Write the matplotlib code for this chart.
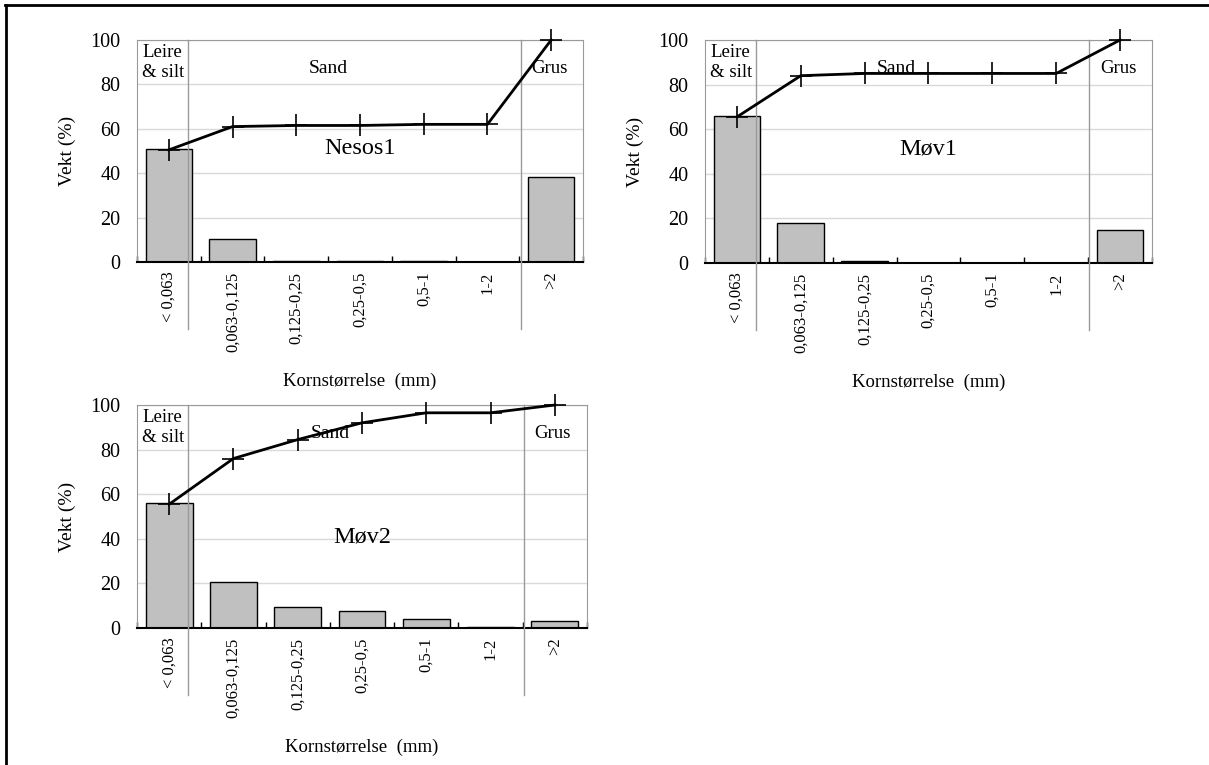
import numpy as np
from matplotlib import pyplot as plt
from matplotlib.lines import Line2D

plt.rcParams['font.family'] = ['Liberation Serif', 'DejaVu Serif']

kategorier = ['< 0,063', '0,063-0,125', '0,125-0,25', '0,25-0,5', '0,5-1', '1-2', '>2']

navn = ['Nesos1', 'Møv1', 'Møv2']
vekt_nesos1 = [51, 10.5, 0.5, 0.5, 0.5, 0, 38.5]
kum_nesos1 = [50.5, 61, 61.5, 61.5, 62, 62, 100]
vekt_mov1 = [66, 18, 1, 0, 0, 0, 15]
kum_mov1 = [65.5, 84, 85, 85, 85, 85, 100]
vekt_mov2 = [56, 20.5, 9.5, 7.5, 4, 0.5, 3]
kum_mov2 = [55.5, 76, 84.5, 92, 96.5, 96.5, 100]

# tittelhøyde (y) for hvert panel
tittel_y = [51, 51, 41]

W, H = 1209, 765
fig = plt.figure(figsize=(W / 100, H / 100), dpi=100)


def akse(l, r, t, b):
    return fig.add_axes([l / W, 1 - b / H, (r - l) / W, (b - t) / H])


akser = [akse(137, 583, 40, 262), akse(705, 1152, 40, 263), akse(137, 587, 405, 628)]
vekter = [vekt_nesos1, vekt_mov1, vekt_mov2]
kumulativ = [kum_nesos1, kum_mov1, kum_mov2]

x = np.arange(len(kategorier))
for ax, v, k, tittel, ty in zip(akser, vekter, kumulativ, navn, tittel_y):
    ax.set_xlim(-0.5, 6.5)
    ax.set_ylim(0, 100)
    ax.set_yticks([0, 20, 40, 60, 80, 100])
    ax.yaxis.grid(True, color='#d9d9d9', lw=1)
    ax.set_axisbelow(True)
    for s in ['left', 'top', 'right']:
        ax.spines[s].set_color('#9a9a9a')
    ax.spines['bottom'].set_color('black')
    ax.spines['bottom'].set_linewidth(1.5)
    ax.bar(x, v, width=0.73, color='#c0c0c0', edgecolor='black', lw=1, zorder=2)
    ax.plot(x, k, color='black', lw=2, marker='+', ms=16, mew=1.2,
            clip_on=False, zorder=4)
    # skillelinjer mellom leire/silt, sand og grus
    for xd in [0.3, 5.52]:
        ax.plot([xd, xd], [100, -30], color='#9a9a9a', lw=1, clip_on=False, zorder=3)
    ax.set_xticks(x)
    ax.set_xticklabels(kategorier, rotation=90, fontsize=12)
    ax.set_xticks(np.arange(-0.5, 7, 1), minor=True)
    ax.tick_params(axis='x', which='major', length=0, pad=7)
    ax.tick_params(axis='x', which='minor', length=4, direction='in', width=1)
    ax.tick_params(axis='y', length=0, labelsize=14.5, pad=12)
    ax.set_ylabel('Vekt (%)', fontsize=14, labelpad=10)
    ax.set_xlabel('Kornstørrelse  (mm)', fontsize=13.5, labelpad=15)
    ax.text(-0.42, 98, 'Leire\n& silt', fontsize=13.5, va='top', ha='left',
            linespacing=1.2)
    ax.text(2.5, 87, 'Sand', fontsize=14, ha='center', va='center')
    ax.text(5.97, 87, 'Grus', fontsize=13.5, ha='center', va='center')
    ax.text(3.0, ty, tittel, fontsize=17.5, ha='center', va='center')

# ramme (venstre og topp)
fig.add_artist(Line2D([6 / W, 6 / W], [0, 1 - 5 / H], color='black', lw=2))
fig.add_artist(Line2D([5 / W, 1], [1 - 5 / H, 1 - 5 / H], color='black', lw=2))

fig.savefig('out.png', dpi=100)
